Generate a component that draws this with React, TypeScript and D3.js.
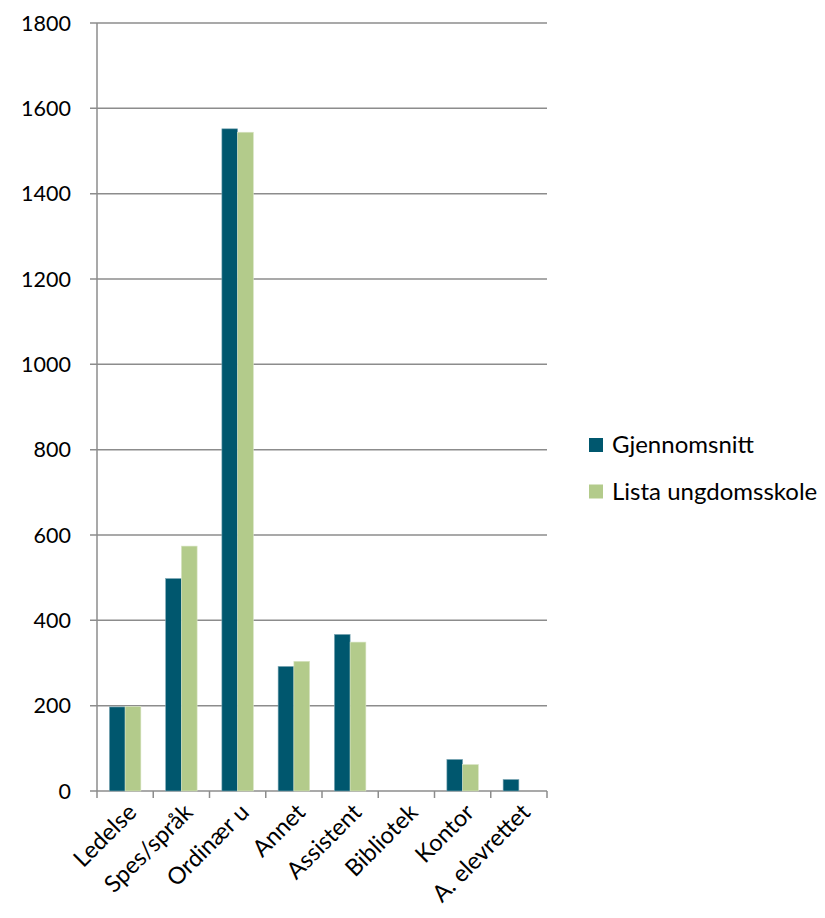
import React from "react";
import * as d3 from "d3";

const categories = ["Ledelse", "Spes/språk", "Ordinær u", "Annet", "Assistent", "Bibliotek", "Kontor", "A. elevrettet"];
const gjennomsnitt = [197, 498, 1552, 292, 367, 0, 74, 27];
const lista = [198, 574, 1544, 304, 349, 0, 62, 0];
const seriesNames = ["Gjennomsnitt", "Lista ungdomsskole"];
const colors = ["#00576E", "#B3CB8B"];
const yTicks = [0, 200, 400, 600, 800, 1000, 1200, 1400, 1600, 1800];

export default function App() {
  const W = 825, H = 918;
  const left = 97, right = 547, top = 23, bottom = 791;
  const x = d3.scaleBand<string>().domain(categories).range([left, right]).paddingInner(0.44).paddingOuter(0.22);
  const xs = d3.scaleBand<number>().domain([0, 1]).range([0, x.bandwidth()]);
  const y = d3.scaleLinear().domain([0, 1800]).range([bottom, top]);
  const step = (right - left) / categories.length;
  const font = "Lato, 'Open Sans', sans-serif";
  const series = [gjennomsnitt, lista];
  return (
    <svg width={W} height={H} style={{ position: "absolute", left: 0, top: 0 }} fontFamily={font}>
      {yTicks.map((t) => (
        <g key={t}>
          <line x1={left - 7} x2={right} y1={y(t)} y2={y(t)} stroke="#8C8C8C" strokeWidth={1.5} />
          <text x={71} y={y(t)} dy="0.35em" textAnchor="end" fontSize={21.5} fill="#000">{t}</text>
        </g>
      ))}
      <line x1={left} x2={left} y1={top} y2={bottom} stroke="#8C8C8C" strokeWidth={1.5} />
      {d3.range(categories.length + 1).map((i) => (
        <line key={i} x1={left + i * step} x2={left + i * step} y1={bottom} y2={bottom + 7} stroke="#8C8C8C" strokeWidth={1.5} />
      ))}
      {categories.map((c, i) => (
        <g key={c}>
          {series.map((s, k) => (
            s[i] > 0 ? (
              <rect key={k} x={(x(c) as number) + (xs(k) as number)} y={y(s[i])} width={xs.bandwidth()} height={bottom - y(s[i])}
                fill={colors[k]} stroke={k === 0 ? "#7FA9B6" : "#D9E5C5"} strokeWidth={0.6} />
            ) : null
          ))}
          <text transform={`translate(${(x(c) as number) + x.bandwidth() / 2 + 7},${bottom + 17}) rotate(-45)`}
            textAnchor="end" dy="0.35em" fontSize={23.5} fill="#000">{c}</text>
        </g>
      ))}
      {seriesNames.map((n, k) => (
        <g key={n} transform={`translate(589,${445 + k * 46.5})`}>
          <rect x={0} y={-7} width={14} height={14} fill={colors[k]} />
          <text x={23} y={0} dy="0.35em" fontSize={24} fill="#000">{n}</text>
        </g>
      ))}
    </svg>
  );
}
